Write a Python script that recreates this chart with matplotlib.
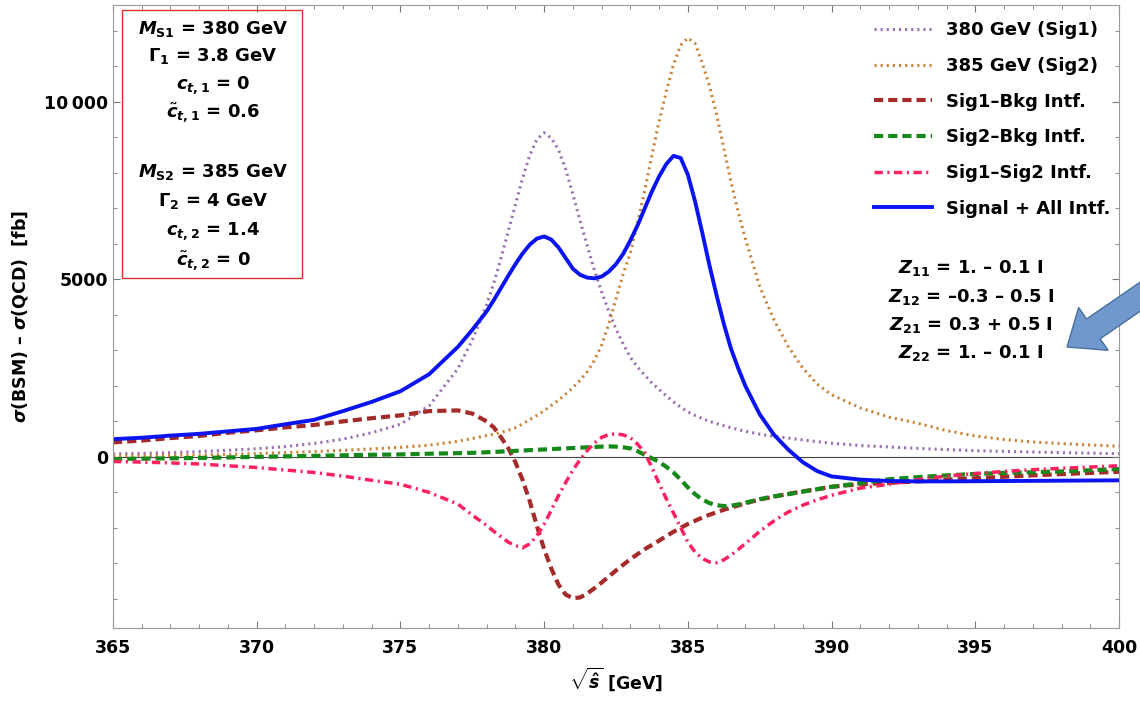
import matplotlib
matplotlib.use('Agg')
import matplotlib.pyplot as plt
from matplotlib.patches import Rectangle, FancyArrow
from matplotlib.transforms import IdentityTransform
from matplotlib.ticker import MultipleLocator, FixedLocator, FixedFormatter

plt.rcParams['font.family'] = ['DejaVu Sans']
plt.rcParams['font.weight'] = 'bold'
plt.rcParams['mathtext.fontset'] = 'custom'
plt.rcParams['mathtext.rm'] = 'DejaVu Sans:bold'
plt.rcParams['mathtext.it'] = 'DejaVu Sans:bold:italic'
plt.rcParams['mathtext.bf'] = 'DejaVu Sans:bold'

# sqrt(s-hat) grid [GeV]
sqrt_s = [365, 366, 367, 368, 369, 370, 371, 372, 373, 374, 375, 376, 377, 377.5,
          378, 378.25, 378.5, 378.75, 379, 379.25, 379.5, 379.75, 380,
          380.25, 380.5, 380.75, 381, 381.25, 381.5, 381.75, 382,
          382.25, 382.5, 382.75, 383, 383.25, 383.5, 383.75, 384,
          384.25, 384.5, 384.75, 385, 385.25, 385.5, 385.75, 386,
          386.25, 386.5, 386.75, 387,
          387.5, 388, 388.5, 389, 389.5, 390,
          391, 392, 393, 394, 395, 396, 397, 398, 399, 400]

# cross-section differences [fb]
sig1 = [85, 100, 120, 150, 185, 230, 290, 380, 500, 680, 920, 1440, 2490, 3290,
        4290, 4900, 5600, 6350, 7100, 7850, 8500, 8950, 9130,
        8980, 8650, 8100, 7400, 6650, 5950, 5250, 4650,
        4100, 3600, 3180, 2800, 2530, 2300, 2080, 1900,
        1720, 1550, 1400, 1270, 1170, 1080, 1000, 940,
        880, 820, 770, 720,
        640, 580, 530, 475, 430, 385,
        320, 280, 240, 205, 175, 155, 138, 120, 105, 92]

sig2 = [28, 35, 45, 55, 70, 95, 120, 150, 185, 225, 270, 330, 440, 520,
        600, 640, 690, 750, 820, 930, 1050, 1170, 1300,
        1450, 1600, 1770, 1950, 2160, 2400, 2720, 3150,
        3750, 4450, 5150, 5750, 6600, 7500, 8500, 9450,
        10300, 11050, 11600, 11800, 11650, 11100, 10450, 9650,
        8700, 7750, 6900, 6150,
        4800, 3850, 3100, 2500, 2050, 1750,
        1380, 1120, 950, 740, 590, 490, 420, 375, 335, 300]

sig1_bkg = [410, 460, 530, 590, 680, 750, 830, 900, 1000, 1090, 1170, 1290, 1310, 1220,
            1000, 830, 550, 250, -150, -650, -1250, -1950, -2600,
            -3150, -3600, -3880, -3980, -3960, -3850, -3700, -3540,
            -3370, -3200, -3040, -2880, -2740, -2600, -2480, -2360,
            -2230, -2110, -2000, -1890, -1800, -1710, -1630, -1560,
            -1490, -1430, -1370, -1310,
            -1200, -1120, -1040, -970, -910, -840,
            -770, -730, -690, -640, -600, -560, -520, -485, -450, -420]

sig2_bkg = [-60, -50, -40, -30, -15, 0, 15, 30, 45, 60, 70, 90, 105, 115,
            130, 140, 150, 160, 170, 180, 190, 200, 210,
            220, 230, 240, 250, 260, 270, 280, 290,
            295, 290, 270, 240, 160, 60, -40, -140,
            -280, -440, -640, -860, -1050, -1200, -1300, -1360,
            -1385, -1375, -1340, -1290,
            -1190, -1110, -1050, -980, -910, -845,
            -740, -630, -570, -520, -480, -450, -430, -410, -375, -340]

sig1_sig2 = [-130, -145, -170, -200, -250, -300, -370, -440, -540, -660, -770, -1000, -1330, -1640,
             -1930, -2100, -2250, -2400, -2500, -2560, -2450, -2220, -1900,
             -1500, -1090, -720, -370, -80, 180, 390, 550,
             630, 650, 620, 540, 360, 120, -300, -750,
             -1180, -1580, -1990, -2400, -2680, -2860, -2960, -2980,
             -2900, -2770, -2610, -2440,
             -2100, -1800, -1550, -1360, -1210, -1080,
             -880, -770, -640, -540, -470, -410, -360, -320, -285, -250]

total = [500, 540, 600, 650, 720, 790, 920, 1045, 1290, 1550, 1850, 2330, 3100, 3580,
         4100, 4420, 4760, 5100, 5430, 5730, 5980, 6150, 6210,
         6120, 5900, 5600, 5300, 5130, 5050, 5030, 5080,
         5220, 5430, 5720, 6100, 6520, 7000, 7480, 7900,
         8250, 8480, 8420, 7950, 7200, 6320, 5400, 4550,
         3750, 3050, 2500, 2000,
         1200, 620, 200, -150, -400, -550,
         -640, -680, -690, -690, -685, -680, -675, -670, -665, -660]

labels = ['380 GeV (Sig1)', '385 GeV (Sig2)', 'Sig1\u2013Bkg Intf.',
          'Sig2\u2013Bkg Intf.', 'Sig1\u2013Sig2 Intf.', 'Signal + All Intf.']

box_lines = [r'$M_{\rm S1}$ = 380 GeV', r'$\Gamma_1$ = 3.8 GeV', r'$c_{t,1}$ = 0',
             r'$\tilde{c}_{t,1}$ = 0.6', r'$M_{\rm S2}$ = 385 GeV', r'$\Gamma_2$ = 4 GeV',
             r'$c_{t,2}$ = 1.4', r'$\tilde{c}_{t,2}$ = 0']
z_lines = ['$Z_{11}$ = 1. \u2013 0.1 I', '$Z_{12}$ = \u20130.3 \u2013 0.5 I',
           '$Z_{21}$ = 0.3 + 0.5 I', '$Z_{22}$ = 1. \u2013 0.1 I']

fig = plt.figure(figsize=(11.4, 7.04), dpi=100)
ax = fig.add_axes([113/1140, 1 - 628/704, (1119-113)/1140, (628-5)/704])

ax.axhline(0, color='#444444', lw=0.8, zorder=1)
ax.plot(sqrt_s, sig1, color='#9a70b0', lw=2.2, ls=(0, (0.7, 1.3)), label=labels[0])
ax.plot(sqrt_s, sig2, color='#c8843a', lw=2.2, ls=(0, (0.7, 1.3)), label=labels[1])
ax.plot(sqrt_s, sig1_bkg, color='#a52a2a', lw=3, ls=(0, (2.2, 1.2)), label=labels[2])
ax.plot(sqrt_s, sig2_bkg, color='#15891a', lw=3, ls=(0, (2.2, 1.2)), label=labels[3])
ax.plot(sqrt_s, sig1_sig2, color='#ff2060', lw=2.5, ls=(0, (2.4, 1.3, 0.6, 1.3)), label=labels[4])
ax.plot(sqrt_s, total, color='#0a14f0', lw=2.8, label=labels[5])

ax.set_xlim(365, 400)
ax.set_ylim(-4820, 12730)
ax.xaxis.set_major_locator(MultipleLocator(5))
ax.xaxis.set_minor_locator(MultipleLocator(1))
ax.yaxis.set_major_locator(FixedLocator([0, 5000, 10000]))
ax.yaxis.set_major_formatter(FixedFormatter(['0', '5000', '10\u2009000']))
ax.yaxis.set_minor_locator(MultipleLocator(1000))
ax.tick_params(which='both', direction='in', top=True, right=True, colors='#777777',
               labelcolor='black', labelsize=12.5)
ax.tick_params(which='major', length=5)
ax.tick_params(which='minor', length=3)
ax.tick_params(axis='x', pad=8)
for sp in ax.spines.values():
    sp.set_color('#999999')

ax.set_xlabel(r'$\sqrt{\hat{s}}$ [GeV]', fontsize=12.5, fontweight='bold', labelpad=6)
ax.set_ylabel('$\\sigma$(BSM) \u2013 $\\sigma$(QCD)  [fb]', fontsize=12.5,
              fontweight='bold', labelpad=10)

leg = ax.legend(loc='upper right', bbox_to_anchor=(1.008, 1.0), frameon=False,
                fontsize=13, handlelength=3.2, labelspacing=0.98, borderaxespad=0.5)

# parameter box
fig.add_artist(Rectangle((122/1140, 1 - 278/704), 180/1140, 268/704, transform=fig.transFigure,
                         fill=False, edgecolor='#e03030', lw=1))
box_y = [29, 56, 85, 113, 172, 201, 231, 261]
for txt, py in zip(box_lines, box_y):
    fig.text(213/1140, 1 - py/704, txt, ha='center', va='center', fontsize=13)

z_y = [268, 297, 325, 353]
for txt, py in zip(z_lines, z_y):
    fig.text(971/1140, 1 - py/704, txt, ha='center', va='center', fontsize=13)

arrow = FancyArrow(1182.5, 436.4, -115.5, -79.4, width=24, head_width=52, head_length=32,
                   length_includes_head=True, transform=IdentityTransform(),
                   facecolor='#7098cc', edgecolor='#46709e', lw=1)
fig.add_artist(arrow)

fig.savefig('out.png', dpi=100)
